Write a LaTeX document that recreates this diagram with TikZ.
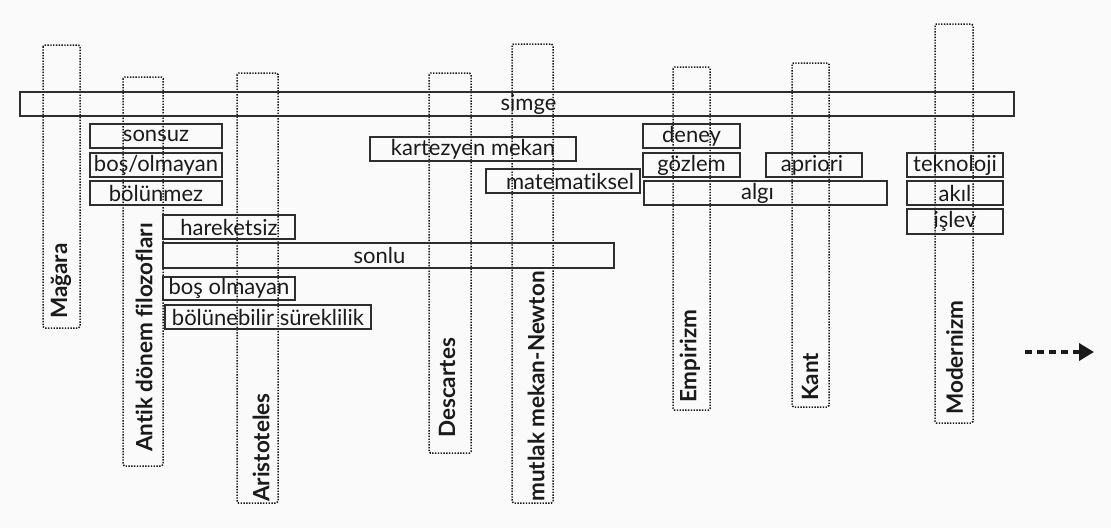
\documentclass[tikz,border=0pt]{standalone}
\usepackage{fontspec}
\setmainfont{Lato}[Ligatures=NoCommon]
\usetikzlibrary{arrows.meta}
\definecolor{bg}{HTML}{FAFAFA}
\definecolor{ink}{HTML}{2E2E2E}
\definecolor{dots}{HTML}{1A1A1A}
\definecolor{txt}{HTML}{1A1A1A}
\begin{document}
\begin{tikzpicture}[x=1pt,y=-1pt,
  hbox/.style={draw=ink, line width=1.5pt, inner sep=0pt, text=txt,
    font=\fontsize{22}{24}\selectfont},
  htext/.style={inner sep=0pt, text=txt, font=\fontsize{22}{24}\selectfont},
  era/.style={draw=dots, line width=1.5pt, dash pattern=on 1.4pt off 1.4pt,
    rounded corners=1.5pt},
  eralabel/.style={rotate=90, anchor=west, inner sep=0pt, text=txt,
    font=\bfseries\fontsize{22.5}{24}\selectfont}
]
% canvas
\fill[bg] (0,0) rectangle (1111,528);
\useasboundingbox (0,0) rectangle (1111,528);

% eras: dotted columns with their rotated titles
\draw[era] (43,45) rectangle (80,328);
\node[eralabel] (magara) at (61,319) {Mağara};
\draw[era] (123,77) rectangle (163,466);
\node[eralabel] (antik) at (144,452) {Antik dönem filozofları};
\draw[era] (237,73) rectangle (278,503);
\node[eralabel] (aristo) at (261,502) {Aristoteles};
\draw[era] (429,73) rectangle (471,453);
\node[eralabel] (descartes) at (447,438) {Descartes};
\draw[era] (512,44) rectangle (553,503);
\node[eralabel] (newton) at (536,502) {mutlak mekan-Newton};
\draw[era] (673,67) rectangle (710,410);
\node[eralabel] (empirizm) at (690,403) {Empirizm};
\draw[era] (792,63) rectangle (829,407);
\node[eralabel] (kant) at (810,401) {Kant};
\draw[era] (935,24) rectangle (973,423);
\node[eralabel] (modernizm) at (954.5,415) {Modernizm};

% concepts: solid bars spanning the eras they belong to
\node[hbox, minimum width=994, minimum height=24] (simgebox) at (517,104) {};
\node[htext] (simge) at (528.5,104) {simge};

\node[hbox, minimum width=132, minimum height=24] (sonsuz) at (156,136) {sonsuz};
\node[hbox, minimum width=132, minimum height=24] (bosolmayan1) at (156,165) {boş/olmayan};
\node[hbox, minimum width=132, minimum height=24] (bolunmez) at (156,193) {bölünmez};

\node[hbox, minimum width=132, minimum height=24] (hareketsiz) at (229,227) {hareketsiz};
\node[hbox, minimum width=451, minimum height=25] (sonlubox) at (388.5,255.5) {};
\node[htext] (sonlu) at (379.5,255.5) {sonlu};
\node[hbox, minimum width=132, minimum height=23] (bosolmayan2) at (229,288.5) {boş olmayan};
\node[hbox, minimum width=206, minimum height=24] (bolunebilir) at (268,317) {bölünebilir süreklilik};

\node[hbox, minimum width=206, minimum height=24] (kartezyen) at (473,149) {kartezyen mekan};
\node[hbox, minimum width=154, minimum height=24] (matbox) at (563,181) {};
\node[htext] (matematiksel) at (570,181) {matematiksel};

\node[hbox, minimum width=97, minimum height=24] (deney) at (691.5,136) {deney};
\node[hbox, minimum width=97, minimum height=24] (gozlem) at (691.5,165) {gözlem};
\node[hbox, minimum width=96, minimum height=24] (aprioribox) at (814,165) {};
\node[htext] (apriori) at (812,165) {apriori};
\node[hbox, minimum width=243, minimum height=24] (algibox) at (765.5,193) {};
\node[htext] (algi) at (757.5,193) {algı};

\node[hbox, minimum width=96, minimum height=24] (teknoloji) at (955,165) {teknoloji};
\node[hbox, minimum width=96, minimum height=24] (akil) at (955,193) {akıl};
\node[hbox, minimum width=96, minimum height=25] (islev) at (955,221.5) {işlev};

% continuation arrow
\coordinate (contS) at (1025,352);
\coordinate (contE) at (1094,352);
\draw[txt, line width=3.5pt, dash pattern=on 7pt off 5pt,
  -{Triangle[length=15pt,width=17pt]}] (contS) -- (contE);
\end{tikzpicture}
\end{document}
